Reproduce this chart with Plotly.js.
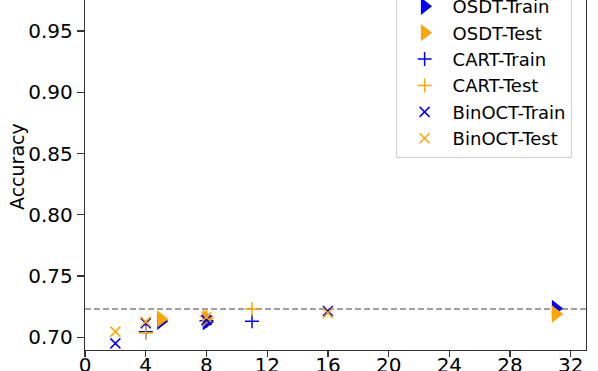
<!DOCTYPE html>
<html>
<head>
<meta charset="utf-8">
<script src="https://cdn.plot.ly/plotly-3.0.1.min.js"></script>
<style>
html, body { margin: 0; padding: 0; width: 598px; height: 371px; overflow: hidden; background: #fff; }
#chart { position: absolute; left: 0; top: -30px; width: 598px; height: 401px; }
</style>
</head>
<body>
<div id="chart"></div>
<script>
// Data
const osdtX = [5, 8, 31];
const osdtTrain = [0.7130, 0.7125, 0.7235];
const osdtTest = [0.7150, 0.7155, 0.7190];
const cartX = [4, 8, 11];
const cartTrain = [0.7045, 0.7135, 0.7130];
const cartTest = [0.7035, 0.7170, 0.7228];
const binoctX = [2, 4, 8, 16];
const binoctTrain = [0.6950, 0.7115, 0.7140, 0.7215];
const binoctTest = [0.7046, 0.7127, 0.7165, 0.7198];
const baseline = 0.7231;
const baselineX = [0, 33];
const xTicks = [0, 4, 8, 12, 16, 20, 24, 28, 32];
const yTicks = [0.70, 0.75, 0.80, 0.85, 0.90, 0.95];
const yTitle = 'Accuracy';

const BLUE = '#0000ff', ORANGE = '#ffa500';
const font = 'DejaVu Sans, sans-serif';

const traces = [
  { x: baselineX, y: baselineX.map(() => baseline), mode: 'lines', showlegend: false, hoverinfo: 'skip',
    line: { color: '#808080', width: 1.5, dash: '6px,3px' } },
  { name: 'OSDT-Train', x: osdtX, y: osdtTrain, mode: 'markers',
    marker: { symbol: 'triangle-right', size: 15, color: BLUE } },
  { name: 'OSDT-Test', x: osdtX, y: osdtTest, mode: 'markers',
    marker: { symbol: 'triangle-right', size: 15, color: ORANGE } },
  { name: 'CART-Train', x: cartX, y: cartTrain, mode: 'markers',
    marker: { symbol: 'cross-thin', size: 10, color: BLUE, line: { color: BLUE, width: 1.5 } } },
  { name: 'CART-Test', x: cartX, y: cartTest, mode: 'markers',
    marker: { symbol: 'cross-thin', size: 10, color: ORANGE, line: { color: ORANGE, width: 1.5 } } },
  { name: 'BinOCT-Train', x: binoctX, y: binoctTrain, mode: 'markers',
    marker: { symbol: 'x-thin', size: 10, color: BLUE, line: { color: BLUE, width: 1.5 } } },
  { name: 'BinOCT-Test', x: binoctX, y: binoctTest, mode: 'markers',
    marker: { symbol: 'x-thin', size: 10, color: ORANGE, line: { color: ORANGE, width: 1.5 } } }
];

const layout = {
  width: 598, height: 401,
  margin: { l: 85, r: 12, t: 13, b: 21, autoexpand: false },
  paper_bgcolor: '#fff', plot_bgcolor: '#fff',
  font: { family: font, size: 19, color: '#000' },
  showlegend: true,
  xaxis: {
    range: [0, 33], tickvals: xTicks, ticktext: xTicks.map(String),
    showgrid: false, zeroline: false, showline: true, mirror: true,
    linecolor: '#333', linewidth: 1.3, ticks: 'outside', ticklen: 6, tickwidth: 1.3, tickcolor: '#333',
    ticklabelstandoff: -9,
    tickfont: { family: font, size: 20, color: '#000' }
  },
  yaxis: {
    range: [0.6896, 0.9892], tickvals: yTicks, ticktext: yTicks.map(v => v.toFixed(2)),
    showgrid: false, zeroline: false, showline: true, mirror: true,
    linecolor: '#333', linewidth: 1.3, ticks: 'outside', ticklen: 7, tickwidth: 1.3, tickcolor: '#333',
    tickfont: { family: font, size: 20, color: '#000' }
  },
  annotations: [{
    text: yTitle, textangle: -90, showarrow: false,
    xref: 'paper', yref: 'paper', x: -0.1367, y: 0.5, xanchor: 'center', yanchor: 'middle',
    font: { family: font, size: 19, color: '#000' }
  }],
  legend: {
    x: 0.620, xanchor: 'left', y: 0.523, yanchor: 'bottom',
    bgcolor: 'rgba(255,255,255,0.8)', bordercolor: '#d0d0d0', borderwidth: 1,
    font: { family: font, size: 18, color: '#000' }, itemwidth: 46
  }
};

Plotly.newPlot('chart', traces, layout, { staticPlot: true, displayModeBar: false });
</script>
</body>
</html>
